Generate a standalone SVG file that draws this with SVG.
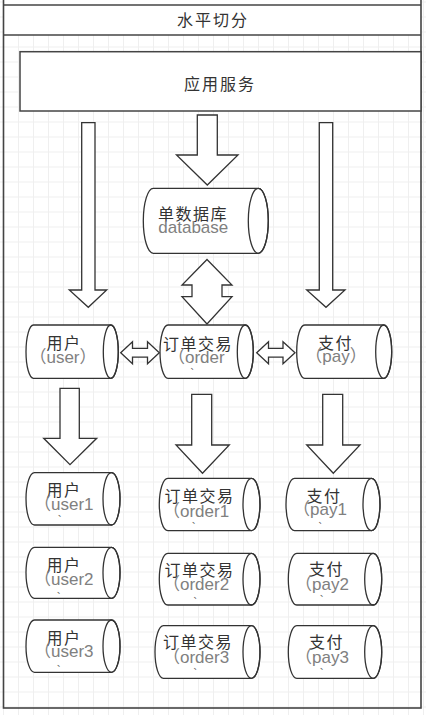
<svg xmlns="http://www.w3.org/2000/svg" width="426" height="715" viewBox="0 0 426 715">
<defs>
<pattern id="grid" x="3" y="1.5" width="15" height="15" patternUnits="userSpaceOnUse">
<path d="M0 0.5H15M0.5 0V15" fill="none" stroke="#efefef" stroke-width="1"/>
</pattern>
</defs>
<style>
.shp{fill:#fff;stroke:#333;stroke-width:1.3}
.ell{fill:none;stroke:#333;stroke-width:1.3}
.arr{fill:#fff;stroke:#333;stroke-width:1.3;stroke-linejoin:miter}
.frm{fill:none;stroke:#444;stroke-width:1.6}
.cn{font-family:"Noto Sans CJK SC","Liberation Sans",sans-serif;font-size:16px;letter-spacing:1.5px;fill:#333;text-anchor:middle}
.big{font-family:"Noto Sans CJK SC","Liberation Sans",sans-serif;font-size:16px;letter-spacing:2px;fill:#333;text-anchor:middle}
.en{font-family:"Liberation Sans","Noto Sans CJK SC",sans-serif;font-size:17px;fill:#808080}
.mid{text-anchor:middle}
.tk{font-family:"Noto Sans CJK SC",sans-serif;font-size:8px;fill:#555}
</style>
<rect width="426" height="715" fill="#fff"/>
<rect width="426" height="715" fill="url(#grid)"/>
<g id="frame">
<rect x="3.5" y="-10" width="417.5" height="45" fill="#fff"/>
<rect class="frm" x="3.5" y="-10" width="417.5" height="718"/>
<line class="frm" x1="3.5" y1="5" x2="421" y2="5"/>
<line class="frm" x1="3.5" y1="35" x2="421" y2="35"/>
<text class="big" x="213" y="26">水平切分</text>
</g>
<g id="app">
<rect x="20" y="51.7" width="401" height="59.3" fill="#fff" stroke="#444" stroke-width="1.5"/>
<text class="big" x="220" y="90">应用服务</text>
</g>
<g id="connectors">
<polygon class="arr" points="81.7,122.7 95,122.7 95,290 106.7,290 88.3,307.3 69.3,290 81.7,290"/>
<polygon class="arr" points="319.3,122.7 332.7,122.7 332.7,290 345,290 326,307.3 306.7,290 319.3,290"/>
<polygon class="arr" points="197.3,115 217.3,115 217.3,155 238,155 207.3,185 176.5,155 197.3,155"/>
<polygon class="arr" points="207,259.5 232,285 222,285 222,296.7 232,296.7 207,324 182,296.7 192,296.7 192,285 182,285"/>
<polygon class="arr" points="120.7,352.7 132.5,341.7 132.5,348.3 147.5,348.3 147.5,341.7 159.3,352.7 147.5,363.7 147.5,357.1 132.5,357.1 132.5,363.7"/>
<polygon class="arr" points="256.7,352.7 268.5,341.7 268.5,348.3 283,348.3 283,341.7 295,352.7 283,363.7 283,357.1 268.5,357.1 268.5,363.7"/>
<polygon class="arr" points="60,388.3 79.3,388.3 79.3,438.3 96.7,438.3 70,464.7 43.7,438.3 60,438.3"/>
<polygon class="arr" points="191.7,394.3 211.7,394.3 211.7,445 229.3,445 202.5,473.3 176,445 191.7,445"/>
<polygon class="arr" points="322.7,394.3 342.7,394.3 342.7,445 360,445 333.3,473.3 306.7,445 322.7,445"/>
</g>
<g id="db">
<path class="shp" d="M153.3 188.3H258.3A10 32.5 0 0 1 258.3 253.3H153.3A10 32.5 0 0 1 153.3 188.3Z"/>
<ellipse class="ell" cx="258.3" cy="220.8" rx="10" ry="32.5"/>
<text class="cn" x="193" y="219.5">单数据库</text>
<text class="en mid" x="193.3" y="233.3">database</text>
</g>
<g id="user">
<path class="shp" d="M33.5 325H110.8A7.5 26.65 0 0 1 110.8 378.3H33.5A7.5 26.65 0 0 1 33.5 325Z"/>
<ellipse class="ell" cx="110.8" cy="351.65" rx="7.5" ry="26.65"/>
<text class="cn" x="64" y="349">用户</text>
<text class="en mid" x="63" y="363">（user）</text>
</g>
<g id="order">
<path class="shp" d="M168 325H245.3A8 26.65 0 0 1 245.3 378.3H168A8 26.65 0 0 1 168 325Z"/>
<ellipse class="ell" cx="245.3" cy="351.65" rx="8" ry="26.65"/>
<text class="cn" x="198" y="349.5">订单交易</text>
<text class="en" x="168" y="363">（order</text>
<text class="tk" x="190.5" y="369">、</text>
</g>
<g id="pay">
<path class="shp" d="M304.7 325H383.7A8 26.65 0 0 1 383.7 378.3H304.7A8 26.65 0 0 1 304.7 325Z"/>
<ellipse class="ell" cx="383.7" cy="351.65" rx="8" ry="26.65"/>
<text class="cn" x="335.5" y="349">支付</text>
<text class="en mid" x="336" y="362">（pay）</text>
</g>
<g id="user1">
<path class="shp" d="M34.5 472.7H111.5A8.5 26.15 0 0 1 111.5 525H34.5A8.5 26.15 0 0 1 34.5 472.7Z"/>
<ellipse class="ell" cx="111.5" cy="498.85" rx="8.5" ry="26.15"/>
<text class="cn" x="64" y="496">用户</text>
<text class="en" x="34" y="510">（user1</text>
<text class="tk" x="58" y="515.5">、</text>
</g>
<g id="user2">
<path class="shp" d="M34.5 547.3H111.5A8.5 25.5 0 0 1 111.5 598.3H34.5A8.5 25.5 0 0 1 34.5 547.3Z"/>
<ellipse class="ell" cx="111.5" cy="572.8" rx="8.5" ry="25.5"/>
<text class="cn" x="64" y="571">用户</text>
<text class="en" x="34" y="584.5">（user2</text>
<text class="tk" x="57" y="592.5">、</text>
</g>
<g id="user3">
<path class="shp" d="M34.5 620H111.5A8.5 26.15 0 0 1 111.5 672.3H34.5A8.5 26.15 0 0 1 34.5 620Z"/>
<ellipse class="ell" cx="111.5" cy="646.15" rx="8.5" ry="26.15"/>
<text class="cn" x="64" y="644">用户</text>
<text class="en" x="34" y="657">（user3</text>
<text class="tk" x="57" y="665.5">、</text>
</g>
<g id="order1">
<path class="shp" d="M167.8 478.3H251.5A8.5 26.2 0 0 1 251.5 530.7H167.8A8.5 26.2 0 0 1 167.8 478.3Z"/>
<ellipse class="ell" cx="251.5" cy="504.5" rx="8.5" ry="26.2"/>
<text class="cn" x="199.5" y="501.5">订单交易</text>
<text class="en" x="163" y="516.5">（order1</text>
<text class="tk" x="192" y="522.5">、</text>
</g>
<g id="order2">
<path class="shp" d="M167.8 553.3H251.5A8.5 25.85 0 0 1 251.5 605H167.8A8.5 25.85 0 0 1 167.8 553.3Z"/>
<ellipse class="ell" cx="251.5" cy="579.15" rx="8.5" ry="25.85"/>
<text class="cn" x="199.5" y="575.5">订单交易</text>
<text class="en" x="163" y="590">（order2</text>
<text class="tk" x="193.5" y="597.5">、</text>
</g>
<g id="order3">
<path class="shp" d="M163.5 625.7H251.5A8.5 26.3 0 0 1 251.5 678.3H163.5A8.5 26.3 0 0 1 163.5 625.7Z"/>
<ellipse class="ell" cx="251.5" cy="652" rx="8.5" ry="26.3"/>
<text class="cn" x="198" y="648">订单交易</text>
<text class="en" x="163" y="663">（order3</text>
<text class="tk" x="193.5" y="669">、</text>
</g>
<g id="pay1">
<path class="shp" d="M294.5 478.3H371.5A8.5 26.2 0 0 1 371.5 530.7H294.5A8.5 26.2 0 0 1 294.5 478.3Z"/>
<ellipse class="ell" cx="371.5" cy="504.5" rx="8.5" ry="26.2"/>
<text class="cn" x="324" y="501.5">支付</text>
<text class="en" x="293" y="515">（pay1</text>
<text class="tk" x="318.5" y="522.5">、</text>
</g>
<g id="pay2">
<path class="shp" d="M296.8 553.3H373.2A8.5 25.85 0 0 1 373.2 605H296.8A8.5 25.85 0 0 1 296.8 553.3Z"/>
<ellipse class="ell" cx="373.2" cy="579.15" rx="8.5" ry="25.85"/>
<text class="cn" x="326.5" y="575">支付</text>
<text class="en" x="295" y="590">（pay2</text>
<text class="tk" x="320" y="596">、</text>
</g>
<g id="pay3">
<path class="shp" d="M296.8 625.7H373.2A8.5 26.3 0 0 1 373.2 678.3H296.8A8.5 26.3 0 0 1 296.8 625.7Z"/>
<ellipse class="ell" cx="373.2" cy="652" rx="8.5" ry="26.3"/>
<text class="cn" x="326.5" y="648">支付</text>
<text class="en" x="295" y="663">（pay3</text>
<text class="tk" x="320" y="669">、</text>
</g>
</svg>
